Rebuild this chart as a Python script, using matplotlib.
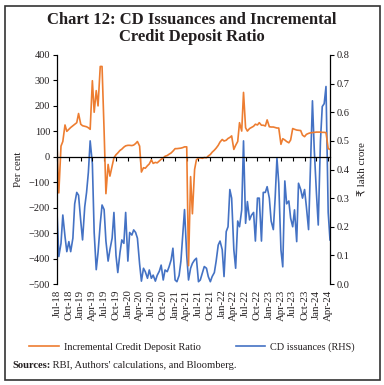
import pandas as pd
import matplotlib
matplotlib.use("Agg")
import matplotlib.pyplot as plt
from matplotlib.patches import Rectangle

# semi-monthly observations, Jul-2018 .. mid Apr-2024
dates = pd.date_range("2018-07-01", periods=140, freq="SMS")

# Incremental credit deposit ratio (per cent, LHS)
icdr = [
    49, -142, 42, 60, 125, 100, 108, 115, 122, 128, 134, 170,
    128, 122, 120, 118, 114, 108, 299, 175, 260, 200, 355, 355,
    100, -145, -30, -76, -37, -4, 8, 15, 25, 30, 38, 43,
    45, 45, 44, 46, 52, 60, 42, -60, -43, -45, -35, -28,
    -12, -26, -22, -24, -16, -10, -5, 2, 5, 10, 15, 22,
    32, 32, 33, 34, 36, 39, 39, -428, -78, -224, -50, -12,
    -5, -4, -6, -3, -4, 3, 9, 18, 26, 34, 45, 58,
    68, 62, 65, 72, 76, 82, 29, 45, 60, 134, 101, 253,
    114, 101, 111, 115, 120, 128, 125, 134, 124, 124, 121, 145,
    118, 117, 117, 115, 113, 113, 49, 71, 66, 60, 55, 66,
    111, 108, 105, 104, 103, 85, 79, 88, 92, 94, 95, 96,
    97, 97, 97, 96, 96, 95, 32, 29,
]

# CD issuances (Rs lakh crore, RHS)
cd_iss = [
    0.253, 0.096, 0.142, 0.241, 0.166, 0.113, 0.148, 0.113, 0.16, 0.28, 0.32, 0.31,
    0.22, 0.154, 0.27, 0.32, 0.39, 0.50, 0.42, 0.18, 0.05, 0.11, 0.21, 0.276,
    0.26, 0.15, 0.08, 0.12, 0.16, 0.25, 0.10, 0.04, 0.11, 0.154, 0.142, 0.25,
    0.08, 0.18, 0.171, 0.189, 0.18, 0.16, 0.07, 0.01, 0.055, 0.043, 0.020, 0.049,
    0.02, 0.031, 0.01, 0.03, 0.045, 0.066, 0.014, 0.049, 0.043, 0.06, 0.084, 0.125,
    0.014, 0.008, 0.03, 0.08, 0.17, 0.26, 0.10, 0.014, 0.055, 0.072, 0.084, 0.09,
    0.008, 0.014, 0.04, 0.061, 0.055, 0.026, 0.008, 0.026, 0.04, 0.08, 0.136, 0.15,
    0.12, 0.026, 0.183, 0.20, 0.33, 0.30, 0.12, 0.055, 0.22, 0.20, 0.259, 0.50,
    0.212, 0.288, 0.224, 0.24, 0.25, 0.15, 0.30, 0.30, 0.15, 0.32, 0.32, 0.34,
    0.30, 0.22, 0.19, 0.30, 0.44, 0.352, 0.119, 0.06, 0.36, 0.28, 0.29, 0.23,
    0.20, 0.259, 0.148, 0.352, 0.33, 0.30, 0.33, 0.27, 0.19, 0.40, 0.64, 0.47,
    0.317, 0.206, 0.50, 0.62, 0.63, 0.69, 0.25, 0.154,
]

tick_dates = pd.date_range("2018-07-01", "2024-04-01", freq="QS-JAN")
tick_labels = [d.strftime("%b-%y") for d in tick_dates]
left_ticks = list(range(-500, 401, 100))
right_ticks = [0.0, 0.1, 0.2, 0.3, 0.4, 0.5, 0.6, 0.7, 0.8]

ORANGE = "#ED7D31"
BLUE = "#4472C4"
TXT = "#231f20"
plt.rcParams["font.family"] = ["Liberation Serif", "DejaVu Sans"]

fig = plt.figure(figsize=(3.84, 3.85), dpi=100)
ax = fig.add_axes([57 / 384, 1 - 284 / 385, 273 / 384, 229 / 385])
ax2 = ax.twinx()
# orange line sits above the blue one
ax.set_zorder(ax2.get_zorder() + 1)
ax.patch.set_visible(False)

l1, = ax.plot(dates, icdr, color=ORANGE, lw=1.2, label="Incremental Credit Deposit Ratio")
l2, = ax2.plot(dates, cd_iss, color=BLUE, lw=1.2, label="CD issuances (RHS)")

ax.set_xlim(dates[0], dates[-1])
ax.set_ylim(-500, 400)
ax2.set_ylim(0, 0.8)
ax.set_yticks(left_ticks)
ax2.set_yticks(right_ticks)
ax2.set_yticklabels([f"{v:.1f}" for v in right_ticks])

for a in (ax, ax2):
    a.spines["top"].set_visible(False)
    for s in a.spines.values():
        s.set_linewidth(0.9)
ax2.spines["bottom"].set_visible(False)
ax2.spines["left"].set_visible(False)
ax.spines["right"].set_visible(False)
ax.spines["bottom"].set_position(("data", 0))

ax.set_xticks(tick_dates)
ax.tick_params(axis="x", direction="out", length=3, width=0.8, labelbottom=False)
ax.tick_params(axis="y", direction="out", length=3, width=0.8, labelsize=7.5, pad=2, labelcolor=TXT)
ax2.tick_params(axis="y", direction="out", length=3, width=0.8, labelsize=7.5, pad=2, labelcolor=TXT)

# date labels along the bottom edge, ticks stay on the zero line
sec = ax.secondary_xaxis("bottom")
sec.set_xticks(tick_dates)
sec.set_xticklabels(tick_labels, rotation=90, fontsize=7.8, color=TXT)
sec.tick_params(length=0, pad=4)
sec.spines["bottom"].set_visible(False)

ax.set_ylabel("Per cent", fontsize=7.8, labelpad=4, color=TXT)
ax2.set_ylabel("₹ lakh crore", fontsize=7.8, labelpad=6, color=TXT)

fig.text(0.5, 1 - 12 / 385, "Chart 12: CD Issuances and Incremental\nCredit Deposit Ratio",
         ha="center", va="top", fontsize=12, fontweight="bold", linespacing=1.1, color=TXT)

fig.legend(handles=[l1, l2], loc="center", bbox_to_anchor=(0.5, 1 - 347 / 385), ncol=2,
           frameon=False, fontsize=7.4, handlelength=2.9, columnspacing=3.4, handletextpad=0.45,
           labelcolor=TXT)

t1 = fig.text(12 / 384, 1 - 366 / 385, "Sources:", fontsize=7.6, fontweight="bold",
              va="center", color=TXT)
ax.annotate(" RBI, Authors' calculations, and Bloomberg.", xy=(1, 0.5), xycoords=t1,
            va="center", ha="left", fontsize=7.6, color=TXT, annotation_clip=False)

fig.patches.append(Rectangle((5 / 384, 5 / 385), 375 / 384, 374 / 385, transform=fig.transFigure,
                             fill=False, edgecolor="#333333", lw=1.2, figure=fig))

fig.savefig("out.png", dpi=100)
